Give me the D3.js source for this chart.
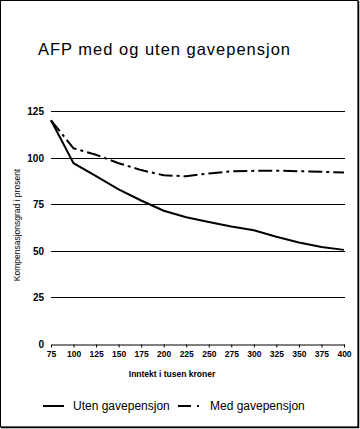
<!DOCTYPE html>
<html>
<head>
<meta charset="utf-8">
<script src="https://cdn.jsdelivr.net/npm/d3@7"></script>
<style>
    body { margin: 0; background: #fff; }
    text { font-family: "Liberation Sans", Arial, sans-serif; fill: #000; }
</style>
</head>
<body>
<svg id="chart" width="360" height="429"></svg>
<script>
// Income levels (thousand NOK)
const incomes = [75, 100, 125, 150, 175, 200, 225, 250, 275, 300, 325, 350, 375, 400];
// Compensation in percent
const utenValues = [120, 97, 90, 83, 77, 71.5, 68, 65.5, 63, 61, 57.5, 54.5, 52, 50.5];
const medValues = [120, 105, 101.5, 97, 93.3, 90.5, 90, 91.5, 92.6, 92.9, 93, 92.7, 92.4, 92];
const yTicks = [0, 25, 50, 75, 100, 125];

const titleText = 'AFP med og uten gavepensjon';
const xTitle = 'Inntekt i tusen kroner';
const yTitle = 'Kompensasjonsgrad i prosent';
const seriesNames = ['Uten gavepensjon', 'Med gavepensjon'];

const svg = d3.select('#chart');

// frame
svg.append('rect')
    .attr('x', 0.5).attr('y', 0.5)
    .attr('width', 357.5).attr('height', 426.5)
    .attr('fill', 'none').attr('stroke', '#000').attr('stroke-width', 1);
svg.append('path')
    .attr('d', 'M358.5,1V427.5H1')
    .attr('fill', 'none').attr('stroke', '#000').attr('stroke-width', 1.5);

svg.append('text')
    .attr('x', 38).attr('y', 55)
    .attr('font-size', 16.5)
    .attr('textLength', 252)
    .text(titleText);

const x = d3.scaleLinear().domain([75, 400]).range([51, 344]);
const y = d3.scaleLinear().domain([0, 125]).range([344, 111]);

// gridlines
svg.append('g')
    .selectAll('line')
    .data(yTicks.filter(d => d > 0))
    .join('line')
    .attr('x1', 51).attr('x2', 345)
    .attr('y1', d => Math.round(y(d)) + 0.5)
    .attr('y2', d => Math.round(y(d)) + 0.5)
    .attr('stroke', '#000').attr('stroke-width', 1);

// y labels
svg.append('g')
    .selectAll('text')
    .data(yTicks)
    .join('text')
    .attr('x', 44)
    .attr('y', d => Math.round(y(d)) + 4)
    .attr('text-anchor', 'end')
    .attr('font-size', 10)
    .attr('font-weight', 'bold')
    .text(d => d);

// x axis
const xAxis = d3.axisBottom(x)
    .tickValues(incomes)
    .tickSize(3)
    .tickSizeOuter(0);
const gx = svg.append('g')
    .attr('transform', 'translate(0,344.5)')
    .call(xAxis);
gx.select('.domain').attr('stroke', '#000');
gx.selectAll('line').attr('stroke', '#000');
gx.selectAll('text')
    .attr('dy', 0)
    .attr('y', 12)
    .attr('font-size', 8.5)
    .attr('font-weight', 'bold')
    .attr('font-family', '"Liberation Sans", Arial, sans-serif')
    .attr('fill', '#000');

svg.append('text')
    .attr('x', 172).attr('y', 377)
    .attr('text-anchor', 'middle')
    .attr('font-size', 8.5)
    .attr('font-weight', 'bold')
    .text(xTitle);

svg.append('text')
    .attr('transform', 'translate(20,225) rotate(-90)')
    .attr('text-anchor', 'middle')
    .attr('font-size', 8.5)
    .text(yTitle);

// lines
const line = d3.line()
    .x((d, i) => x(incomes[i]))
    .y(d => y(d));

svg.append('path')
    .attr('d', line(utenValues))
    .attr('fill', 'none').attr('stroke', '#000').attr('stroke-width', 2);

svg.append('path')
    .attr('d', line(medValues))
    .attr('fill', 'none').attr('stroke', '#000').attr('stroke-width', 2)
    .attr('stroke-dasharray', '14,4,3,4');

// legend
const legend = svg.append('g');
legend.append('line')
    .attr('x1', 43).attr('x2', 64).attr('y1', 406).attr('y2', 406)
    .attr('stroke', '#000').attr('stroke-width', 2);
legend.append('text')
    .attr('x', 73).attr('y', 410).attr('font-size', 12)
    .text(seriesNames[0]);
legend.append('line')
    .attr('x1', 178).attr('x2', 200).attr('y1', 406).attr('y2', 406)
    .attr('stroke', '#000').attr('stroke-width', 2)
    .attr('stroke-dasharray', '13,6,2,10');
legend.append('text')
    .attr('x', 210).attr('y', 410).attr('font-size', 12)
    .text(seriesNames[1]);
</script>
</body>
</html>
